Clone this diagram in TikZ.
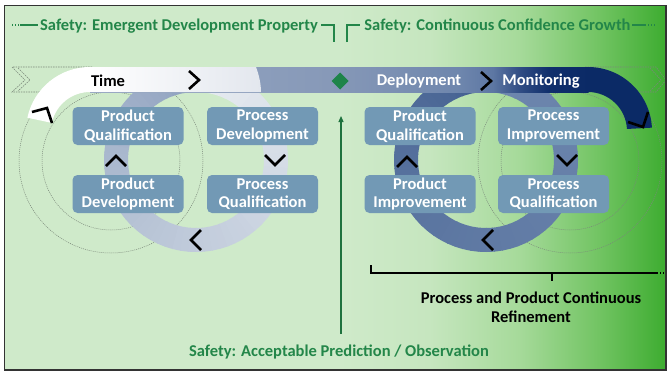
\documentclass[tikz,border=0pt]{standalone}
\usepackage{fontspec}
\setmainfont{Carlito}
\usetikzlibrary{arrows.meta}
\definecolor{bglight}{HTML}{CFEACA}
\definecolor{bgA}{HTML}{C6E6BF}
\definecolor{bgB}{HTML}{A6DA9A}
\definecolor{bgC}{HTML}{72C463}
\definecolor{bgD}{HTML}{3DAC30}
\definecolor{grn}{HTML}{238649}
\definecolor{dia}{HTML}{1E8449}
\definecolor{boxc}{HTML}{7299B5}
\definecolor{navy}{HTML}{0B2A66}
\definecolor{lrA}{HTML}{8DA0BE}
\definecolor{lrB}{HTML}{E8ECF1}
\definecolor{rrA}{HTML}{3D5A8C}
\definecolor{rrB}{HTML}{6E87AE}
\definecolor{lgt}{HTML}{E3E7EE}
\definecolor{bd1}{HTML}{8B9DBB}
\definecolor{bd2}{HTML}{8799B8}
\definecolor{bd3}{HTML}{7A8FB2}
\definecolor{bd4}{HTML}{6E86AD}
\definecolor{bd5}{HTML}{5D77A3}
\definecolor{bd6}{HTML}{2F4B83}
\definecolor{bd7}{HTML}{102F6C}
\definecolor{ghost}{HTML}{7A887A}
\pgfdeclarehorizontalshading{bgsh}{100bp}{color(0bp)=(bglight); color(50.3bp)=(bglight); color(57.1bp)=(bgA); color(63.9bp)=(bgB); color(69.9bp)=(bgC); color(75bp)=(bgD); color(100bp)=(bgD)}
\pgfdeclarehorizontalshading{bandsh}{100bp}{color(0bp)=(bd1); color(42.3bp)=(bd1); color(49.1bp)=(bd2); color(56.1bp)=(bd3); color(62.1bp)=(bd4); color(65.4bp)=(bd5); color(68.2bp)=(bd6); color(71bp)=(bd7); color(75bp)=(navy); color(100bp)=(navy)}
\tikzset{
  boxnode/.style={fill=boxc, rounded corners=5pt, minimum width=111pt, minimum height=38pt, inner sep=0pt, text=white, font=\bfseries\fontsize{16.5}{18.6}\selectfont, align=center},
  chev/.style={draw=black, line width=2.6pt, miter limit=10},
  ghostline/.style={draw=ghost, line width=0.5pt, dash pattern=on 1pt off 1pt},
  outl/.style={draw=ghost, line width=0.6pt, dash pattern=on 1.5pt off 1pt},
  lbl/.style={font=\bfseries\fontsize{16.5}{19}\selectfont, inner sep=0pt},
  gline/.style={draw=grn, line width=1.1pt}
}
\begin{document}
\begin{tikzpicture}[x=1pt,y=-1pt]
\useasboundingbox (0,0) rectangle (668,375);
\fill[white] (0,0) rectangle (668,375);
% background
\shade[shading=bgsh] (4,5) rectangle (666,370);
% ghost circles
\draw[ghostline] (111,161) circle[radius=69];
\draw[ghostline] (111,161) circle[radius=92];
\draw[ghostline] (570,161) circle[radius=69];
\draw[ghostline] (570,161) circle[radius=92];
% dashed band outlines
\draw[outl] (92,67) -- (12,67) -- (25,80) -- (12,92) -- (40,92);
\draw[outl] (18,68) -- (30,80) -- (18,91);
\draw[outl] (585,67) -- (656,67) -- (666,80) -- (656,92) -- (640,92);
\draw[outl] (650,68) -- (661,80) -- (650,91);
% left ring
\foreach \i in {0,...,71}{
  \pgfmathsetmacro\a{90+5*\i}
  \pgfmathsetmacro\b{\a+5.6}
  \pgfmathtruncatemacro\p{100*pow(\i/71,0.8)}
  \fill[lrB!\p!lrA, shift={(196,160)}] (-\a:92) arc[start angle=-\a, end angle=-\b, radius=92] -- (-\b:68) arc[start angle=-\b, end angle=-\a, radius=68] -- cycle;
}
% right ring
\foreach \i in {0,...,71}{
  \pgfmathsetmacro\a{90+5*\i}
  \pgfmathsetmacro\b{\a+5.6}
  \pgfmathtruncatemacro\p{100*pow(\i/71,0.5)}
  \fill[rrB!\p!rrA, shift={(486,160)}] (-\a:92) arc[start angle=-\a, end angle=-\b, radius=92] -- (-\b:68) arc[start angle=-\b, end angle=-\a, radius=68] -- cycle;
}
% band
\shade[shading=bandsh] (90,67) rectangle (588.5,92);
\shade[left color=white, right color=lgt] (89.5,67) -- (256,67) .. controls (259,75) and (261,84) .. (261,92) -- (89.5,92) -- cycle;
% white arc (left) and navy arc (right)
\fill[white, shift={(90,131)}] (-90:64) arc[start angle=-90, end angle=-168, radius=64] -- (-168:39) arc[start angle=-168, end angle=-90, radius=39] -- cycle;
\fill[navy, shift={(588,131)}] (-90:64) arc[start angle=-90, end angle=-3, radius=64] -- (-3:39) arc[start angle=-3, end angle=-90, radius=39] -- cycle;
% end markers
\draw[chev] (32,112) -- (47,108) -- (52,123);
\draw[chev] (628,122) -- (643,127) -- (648,112);
% band chevrons
\draw[chev] (189,71) -- (199,80) -- (189,89);
\draw[chev] (481,72) -- (491,81) -- (481,90);
% ring chevrons
\draw[chev] (106,166) -- (116,156) -- (126,166);
\draw[chev] (265,155) -- (275,165) -- (285,155);
\draw[chev] (201,230) -- (191,240) -- (201,250);
\draw[chev] (397,167) -- (407,157) -- (417,167);
\draw[chev] (557,155) -- (567,165) -- (577,155);
\draw[chev] (493,230) -- (483,240) -- (493,250);
% diamond
\fill[dia] (340,72.5) -- (348.5,81) -- (340,89.5) -- (331.5,81) -- cycle;
% band texts
\node[lbl, text=black] (time) at (108,81) {Time};
\node[lbl, text=white] (deploy) at (419,81) {Deployment};
\node[lbl, text=white] (monit) at (541,81) {Monitoring};
% boxes
\node[boxnode] (pq1) at (128,126) {Product\\Qualification};
\node[boxnode] (pd1) at (128,194) {Product\\Development};
\node[boxnode] (prd) at (262.5,126) {Process\\Development};
\node[boxnode] (prq1) at (262.5,194) {Process\\Qualification};
\node[boxnode] (pq2) at (420,126) {Product\\Qualification};
\node[boxnode] (pi2) at (420,194) {Product\\Improvement};
\node[boxnode] (pri) at (553.5,126) {Process\\Improvement};
\node[boxnode] (prq2) at (553.5,194) {Process\\Qualification};
% green vertical arrow
\coordinate (arrB) at (341,334);
\coordinate (arrT) at (341,116);
\draw[draw=grn!85!black, line width=1.2pt, -{Triangle[length=6pt,width=5pt]}] (arrB) -- (arrT);
% top labels
\node[lbl, text=grn] (lab1) at (179,26) {Safety: Emergent Development Property};
\node[lbl, text=grn] (lab2) at (497.5,26) {Safety: Continuous Confidence Growth};
\draw[gline, dotted] (12,25) -- (20,25);
\draw[gline] (20,25) -- (38,25);
\draw[gline] (321,25) -- (334,25) -- (334,42);
\draw[gline] (347,42) -- (347,25) -- (360,25);
\draw[gline] (632,25) -- (645,25);
\draw[gline, dotted] (645,25) -- (655,25);
% bottom label
\node[lbl, text=grn] (lab3) at (339,352) {Safety: Acceptable Prediction / Observation};
% bracket
\draw[line width=1.1pt] (371,265) -- (371,273) -- (657,273);
\draw[line width=1.1pt, dotted] (657,273) -- (665,273);
\draw[line width=1.1pt] (552,273) -- (552,281);
\node[lbl, text=black, align=center, font=\bfseries\fontsize{16.5}{19}\selectfont] (refine) at (531,307) {Process and Product Continuous\\Refinement};
% frame
\draw[line width=1.2pt, black!80] (4.5,5.5) rectangle (666,370);
\end{tikzpicture}
\end{document}
